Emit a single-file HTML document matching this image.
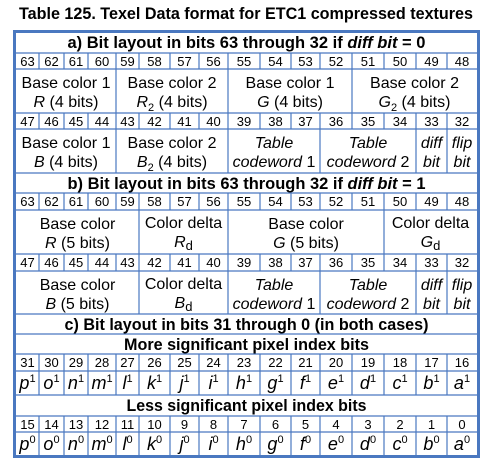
<!DOCTYPE html>
<html><head><meta charset="utf-8"><style>
html,body{margin:0;padding:0;background:#fff;width:497px;height:472px;overflow:hidden}
svg{display:block;font-family:"Liberation Sans",Arial,sans-serif}
.n{font-size:13px;text-anchor:middle}
.c{font-size:16px;text-anchor:middle}
.h{font-size:17px;font-weight:bold;text-anchor:middle}
.l{font-size:18px;font-style:italic;text-anchor:middle}
.s{font-size:11px;font-style:normal}
</style></head><body>
<svg width="497" height="472" viewBox="0 0 497 472">
<text x="19" y="19" font-size="17" font-weight="bold" textLength="454" lengthAdjust="spacingAndGlyphs">Table 125. Texel Data format for ETC1 compressed textures</text>
<g stroke="#4a78c0" stroke-width="1.2" fill="none">
<!-- horizontal lines -->
<path d="M16 53H477M16 69H477M16 113H477M16 129H477M16 173H477M16 193H477M16 210H477M16 254H477M16 271H477M16 314H477M16 334H477M16 354H477M16 371H477M16 395H477M16 416H477M16 432H477"/>
<!-- a) bit rows and c) rows: all columns -->
<path d="M39 53V69M64 53V69M88 53V69M116 53V69M139 53V69M170 53V69M199 53V69M228 53V69M260 53V69M291 53V69M320 53V69M352 53V69M384 53V69M416 53V69M447 53V69"/>
<path d="M39 113V129M64 113V129M88 113V129M116 113V129M139 113V129M170 113V129M199 113V129M228 113V129M260 113V129M291 113V129M320 113V129M352 113V129M384 113V129M416 113V129M447 113V129"/>
<path d="M39 193V210M64 193V210M88 193V210M116 193V210M139 193V210M170 193V210M199 193V210M228 193V210M260 193V210M291 193V210M320 193V210M352 193V210M384 193V210M416 193V210M447 193V210"/>
<path d="M39 254V271M64 254V271M88 254V271M116 254V271M139 254V271M170 254V271M199 254V271M228 254V271M260 254V271M291 254V271M320 254V271M352 254V271M384 254V271M416 254V271M447 254V271"/>
<path d="M39 354V395M64 354V395M88 354V395M116 354V395M139 354V395M170 354V395M199 354V395M228 354V395M260 354V395M291 354V395M320 354V395M352 354V395M384 354V395M416 354V395M447 354V395"/>
<path d="M39 416V456M64 416V456M88 416V456M116 416V456M139 416V456M170 416V456M199 416V456M228 416V456M260 416V456M291 416V456M320 416V456M352 416V456M384 416V456M416 416V456M447 416V456"/>
<!-- content dividers -->
<path d="M116 69V113M228 69V113M352 69V113"/>
<path d="M116 129V173M228 129V173M320 129V173M416 129V173M447 129V173"/>
<path d="M139 210V254M228 210V254M384 210V254"/>
<path d="M139 271V314M228 271V314M320 271V314M416 271V314M447 271V314"/>
</g>
<rect x="14.5" y="31.5" width="464" height="425" fill="none" stroke="#4a78c0" stroke-width="3"/>

<text class="h" x="246.5" y="48" textLength="358" lengthAdjust="spacingAndGlyphs">a) Bit layout in bits 63 through 32 if <tspan font-style="italic">diff bit</tspan> = 0</text>
<text class="h" x="246.5" y="189" textLength="358" lengthAdjust="spacingAndGlyphs">b) Bit layout in bits 63 through 32 if <tspan font-style="italic">diff bit</tspan> = 1</text>
<text class="h" x="246.5" y="330" textLength="364" lengthAdjust="spacingAndGlyphs">c) Bit layout in bits 31 through 0 (in both cases)</text>
<text class="h" x="246.5" y="350" textLength="245" lengthAdjust="spacingAndGlyphs">More significant pixel index bits</text>
<text class="h" x="246.5" y="411" textLength="240" lengthAdjust="spacingAndGlyphs">Less significant pixel index bits</text>

<g class="n">
<text x="27.5" y="66" class="n">63</text><text x="51.5" y="66" class="n">62</text><text x="76" y="66" class="n">61</text><text x="102" y="66" class="n">60</text><text x="127.5" y="66" class="n">59</text><text x="154.5" y="66" class="n">58</text><text x="184.5" y="66" class="n">57</text><text x="213.5" y="66" class="n">56</text><text x="244" y="66" class="n">55</text><text x="275.5" y="66" class="n">54</text><text x="305.5" y="66" class="n">53</text><text x="336" y="66" class="n">52</text><text x="368" y="66" class="n">51</text><text x="400" y="66" class="n">50</text><text x="431.5" y="66" class="n">49</text><text x="462" y="66" class="n">48</text>
<text x="27.5" y="126" class="n">47</text><text x="51.5" y="126" class="n">46</text><text x="76" y="126" class="n">45</text><text x="102" y="126" class="n">44</text><text x="127.5" y="126" class="n">43</text><text x="154.5" y="126" class="n">42</text><text x="184.5" y="126" class="n">41</text><text x="213.5" y="126" class="n">40</text><text x="244" y="126" class="n">39</text><text x="275.5" y="126" class="n">38</text><text x="305.5" y="126" class="n">37</text><text x="336" y="126" class="n">36</text><text x="368" y="126" class="n">35</text><text x="400" y="126" class="n">34</text><text x="431.5" y="126" class="n">33</text><text x="462" y="126" class="n">32</text>
<text x="27.5" y="206" class="n">63</text><text x="51.5" y="206" class="n">62</text><text x="76" y="206" class="n">61</text><text x="102" y="206" class="n">60</text><text x="127.5" y="206" class="n">59</text><text x="154.5" y="206" class="n">58</text><text x="184.5" y="206" class="n">57</text><text x="213.5" y="206" class="n">56</text><text x="244" y="206" class="n">55</text><text x="275.5" y="206" class="n">54</text><text x="305.5" y="206" class="n">53</text><text x="336" y="206" class="n">52</text><text x="368" y="206" class="n">51</text><text x="400" y="206" class="n">50</text><text x="431.5" y="206" class="n">49</text><text x="462" y="206" class="n">48</text>
<text x="27.5" y="267" class="n">47</text><text x="51.5" y="267" class="n">46</text><text x="76" y="267" class="n">45</text><text x="102" y="267" class="n">44</text><text x="127.5" y="267" class="n">43</text><text x="154.5" y="267" class="n">42</text><text x="184.5" y="267" class="n">41</text><text x="213.5" y="267" class="n">40</text><text x="244" y="267" class="n">39</text><text x="275.5" y="267" class="n">38</text><text x="305.5" y="267" class="n">37</text><text x="336" y="267" class="n">36</text><text x="368" y="267" class="n">35</text><text x="400" y="267" class="n">34</text><text x="431.5" y="267" class="n">33</text><text x="462" y="267" class="n">32</text>
<text x="27.5" y="367" class="n">31</text><text x="51.5" y="367" class="n">30</text><text x="76" y="367" class="n">29</text><text x="102" y="367" class="n">28</text><text x="127.5" y="367" class="n">27</text><text x="154.5" y="367" class="n">26</text><text x="184.5" y="367" class="n">25</text><text x="213.5" y="367" class="n">24</text><text x="244" y="367" class="n">23</text><text x="275.5" y="367" class="n">22</text><text x="305.5" y="367" class="n">21</text><text x="336" y="367" class="n">20</text><text x="368" y="367" class="n">19</text><text x="400" y="367" class="n">18</text><text x="431.5" y="367" class="n">17</text><text x="462" y="367" class="n">16</text>
<text x="27.5" y="429" class="n">15</text><text x="51.5" y="429" class="n">14</text><text x="76" y="429" class="n">13</text><text x="102" y="429" class="n">12</text><text x="127.5" y="429" class="n">11</text><text x="154.5" y="429" class="n">10</text><text x="184.5" y="429" class="n">9</text><text x="213.5" y="429" class="n">8</text><text x="244" y="429" class="n">7</text><text x="275.5" y="429" class="n">6</text><text x="305.5" y="429" class="n">5</text><text x="336" y="429" class="n">4</text><text x="368" y="429" class="n">3</text><text x="400" y="429" class="n">2</text><text x="431.5" y="429" class="n">1</text><text x="462" y="429" class="n">0</text>
</g>

<!-- a) content -->
<text class="c" x="66" y="88">Base color 1</text><text class="c" x="66" y="107"><tspan font-style="italic">R</tspan> (4 bits)</text>
<text class="c" x="172" y="88">Base color 2</text><text class="c" x="172" y="107"><tspan font-style="italic">R</tspan><tspan font-size="11" dy="4">2</tspan><tspan dy="-4"> (4 bits)</tspan></text>
<text class="c" x="290" y="88">Base color 1</text><text class="c" x="290" y="107"><tspan font-style="italic">G</tspan> (4 bits)</text>
<text class="c" x="414.5" y="88">Base color 2</text><text class="c" x="414.5" y="107"><tspan font-style="italic">G</tspan><tspan font-size="11" dy="4">2</tspan><tspan dy="-4"> (4 bits)</tspan></text>

<text class="c" x="66" y="148">Base color 1</text><text class="c" x="66" y="167"><tspan font-style="italic">B</tspan> (4 bits)</text>
<text class="c" x="172" y="148">Base color 2</text><text class="c" x="172" y="167"><tspan font-style="italic">B</tspan><tspan font-size="11" dy="4">2</tspan><tspan dy="-4"> (4 bits)</tspan></text>
<text class="c" x="274" y="148" font-style="italic">Table</text><text class="c" x="274" y="167"><tspan font-style="italic">codeword</tspan> 1</text>
<text class="c" x="368" y="148" font-style="italic">Table</text><text class="c" x="368" y="167"><tspan font-style="italic">codeword</tspan> 2</text>
<text class="c" x="431.5" y="148" font-style="italic">diff</text><text class="c" x="431.5" y="167" font-style="italic">bit</text>
<text class="c" x="462" y="148" font-style="italic">flip</text><text class="c" x="462" y="167" font-style="italic">bit</text>

<!-- b) content -->
<text class="c" x="77.5" y="229">Base color</text><text class="c" x="77.5" y="248"><tspan font-style="italic">R</tspan> (5 bits)</text>
<text class="c" x="183.5" y="228">Color delta</text><text class="c" x="183.5" y="247"><tspan font-style="italic">R</tspan><tspan font-size="13" dy="3">d</tspan></text>
<text class="c" x="306" y="229">Base color</text><text class="c" x="306" y="248"><tspan font-style="italic">G</tspan> (5 bits)</text>
<text class="c" x="430.5" y="228">Color delta</text><text class="c" x="430.5" y="247"><tspan font-style="italic">G</tspan><tspan font-size="13" dy="3">d</tspan></text>

<text class="c" x="77.5" y="290">Base color</text><text class="c" x="77.5" y="309"><tspan font-style="italic">B</tspan> (5 bits)</text>
<text class="c" x="183.5" y="289">Color delta</text><text class="c" x="183.5" y="308"><tspan font-style="italic">B</tspan><tspan font-size="13" dy="3">d</tspan></text>
<text class="c" x="274" y="290" font-style="italic">Table</text><text class="c" x="274" y="309"><tspan font-style="italic">codeword</tspan> 1</text>
<text class="c" x="368" y="290" font-style="italic">Table</text><text class="c" x="368" y="309"><tspan font-style="italic">codeword</tspan> 2</text>
<text class="c" x="431.5" y="290" font-style="italic">diff</text><text class="c" x="431.5" y="309" font-style="italic">bit</text>
<text class="c" x="462" y="290" font-style="italic">flip</text><text class="c" x="462" y="309" font-style="italic">bit</text>

<!-- c) letters -->
<g class="l">
<text class="l" x="27.5" y="389">p<tspan class="s" dy="-7">1</tspan></text><text class="l" x="51.5" y="389">o<tspan class="s" dy="-7">1</tspan></text><text class="l" x="76" y="389">n<tspan class="s" dy="-7">1</tspan></text><text class="l" x="102" y="389">m<tspan class="s" dy="-7">1</tspan></text><text class="l" x="127.5" y="389">l<tspan class="s" dy="-7">1</tspan></text><text class="l" x="154.5" y="389">k<tspan class="s" dy="-7">1</tspan></text><text class="l" x="184.5" y="389">j<tspan class="s" dy="-7">1</tspan></text><text class="l" x="213.5" y="389">i<tspan class="s" dy="-7">1</tspan></text><text class="l" x="244" y="389">h<tspan class="s" dy="-7">1</tspan></text><text class="l" x="275.5" y="389">g<tspan class="s" dy="-7">1</tspan></text><text class="l" x="305.5" y="389">f<tspan class="s" dy="-7">1</tspan></text><text class="l" x="336" y="389">e<tspan class="s" dy="-7">1</tspan></text><text class="l" x="368" y="389">d<tspan class="s" dy="-7">1</tspan></text><text class="l" x="400" y="389">c<tspan class="s" dy="-7">1</tspan></text><text class="l" x="431.5" y="389">b<tspan class="s" dy="-7">1</tspan></text><text class="l" x="462" y="389">a<tspan class="s" dy="-7">1</tspan></text>
<text class="l" x="27.5" y="450">p<tspan class="s" dy="-7">0</tspan></text><text class="l" x="51.5" y="450">o<tspan class="s" dy="-7">0</tspan></text><text class="l" x="76" y="450">n<tspan class="s" dy="-7">0</tspan></text><text class="l" x="102" y="450">m<tspan class="s" dy="-7">0</tspan></text><text class="l" x="127.5" y="450">l<tspan class="s" dy="-7">0</tspan></text><text class="l" x="154.5" y="450">k<tspan class="s" dy="-7">0</tspan></text><text class="l" x="184.5" y="450">j<tspan class="s" dy="-7">0</tspan></text><text class="l" x="213.5" y="450">i<tspan class="s" dy="-7">0</tspan></text><text class="l" x="244" y="450">h<tspan class="s" dy="-7">0</tspan></text><text class="l" x="275.5" y="450">g<tspan class="s" dy="-7">0</tspan></text><text class="l" x="305.5" y="450">f<tspan class="s" dy="-7">0</tspan></text><text class="l" x="336" y="450">e<tspan class="s" dy="-7">0</tspan></text><text class="l" x="368" y="450">d<tspan class="s" dy="-7">0</tspan></text><text class="l" x="400" y="450">c<tspan class="s" dy="-7">0</tspan></text><text class="l" x="431.5" y="450">b<tspan class="s" dy="-7">0</tspan></text><text class="l" x="462" y="450">a<tspan class="s" dy="-7">0</tspan></text>
</g>
</svg>
</body></html>
